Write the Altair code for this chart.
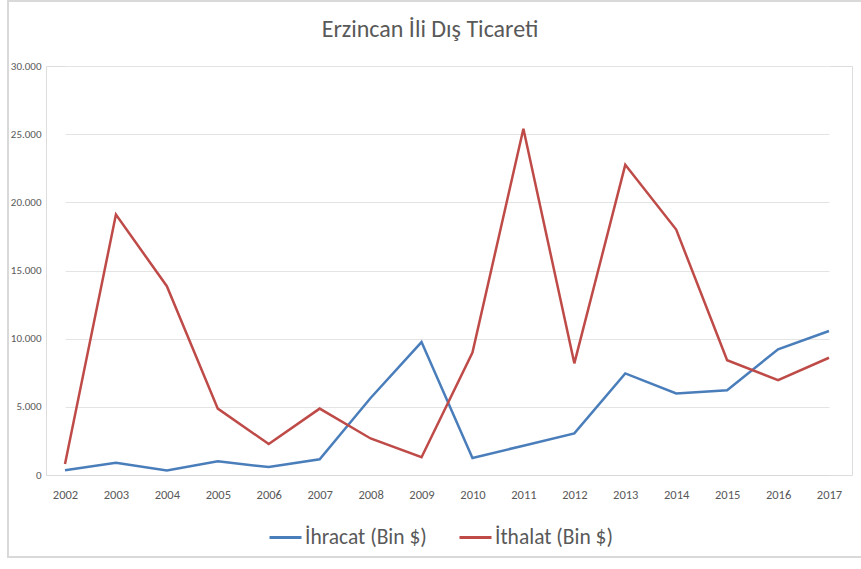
import altair as alt
import pandas as pd

years = [str(y) for y in range(2002, 2018)]
ihracat = [350, 900, 330, 1000, 580, 1150, 5650, 9750, 1250, 2150, 3050, 7450, 5980, 6220, 9220, 10560]
ithalat = [800, 19100, 13850, 4870, 2270, 4870, 2680, 1300, 8980, 25400, 8190, 22750, 18000, 8420, 6960, 8600]
series = ["İhracat (Bin $)", "İthalat (Bin $)"]
colors = ["#4A7EBB", "#BE4B48"]

rows = []
for i, y in enumerate(years):
    rows.append({"Yil": y, "Seri": series[0], "Deger": ihracat[i]})
    rows.append({"Yil": y, "Seri": series[1], "Deger": ithalat[i]})
df = pd.DataFrame(rows)

FONT = "Carlito, Lato"
GRAY = "#595959"
LEFT = 46

lines = alt.Chart(df).mark_line(strokeWidth=2.5).encode(
    x=alt.X("Yil:O", sort=years, title=None,
            scale=alt.Scale(type="point", padding=0, range=[65 - LEFT, 829 - LEFT]),
            axis=alt.Axis(labelAngle=0, ticks=False, labelPadding=13, domainColor="#d9d9d9",
                          labelFont=FONT, labelFontSize=12.5, labelColor=GRAY, grid=False)),
    y=alt.Y("Deger:Q", title=None,
            scale=alt.Scale(domain=[0, 30000], nice=False),
            axis=alt.Axis(values=[0, 5000, 10000, 15000, 20000, 25000, 30000],
                          labelExpr="replace(format(datum.value, ','), regexp(',', 'g'), '.')",
                          ticks=False, domain=False, labelPadding=5, gridColor="#e4e4e4",
                          labelFont=FONT, labelFontSize=11, labelColor=GRAY)),
    color=alt.Color("Seri:N", scale=alt.Scale(domain=series, range=colors), title=None,
                    legend=alt.Legend(orient="none", legendX=268 - LEFT, legendY=454, direction="horizontal",
                                      symbolType="stroke", symbolSize=1024, symbolStrokeWidth=3,
                                      labelFont=FONT, labelFontSize=21.5, labelColor=GRAY,
                                      columnPadding=26, labelOffset=2)),
)

frame = alt.Chart(df).mark_rect(fill=None, stroke="#d9d9d9", strokeWidth=1.5).encode(
    x=alt.value(8 - LEFT), x2=alt.value(880 - LEFT), y=alt.value(-65), y2=alt.value(491)
)

chart = alt.layer(frame, lines).properties(
    width=852 - LEFT, height=409,
    padding={"left": LEFT, "top": 66, "right": 9, "bottom": 94},
    autosize=alt.AutoSizeParams(type="none"),
    title=alt.TitleParams("Erzincan İli Dış Ticareti", font=FONT, fontSize=24, fontWeight="normal",
                          color=GRAY, anchor="middle", frame="group", offset=0, dy=42,
                          dx=430 - (LEFT + (852 - LEFT) / 2)),
).configure_view(stroke=None).configure(background="white")

chart.save("out.html", embed_options={"renderer": "svg", "actions": False})
